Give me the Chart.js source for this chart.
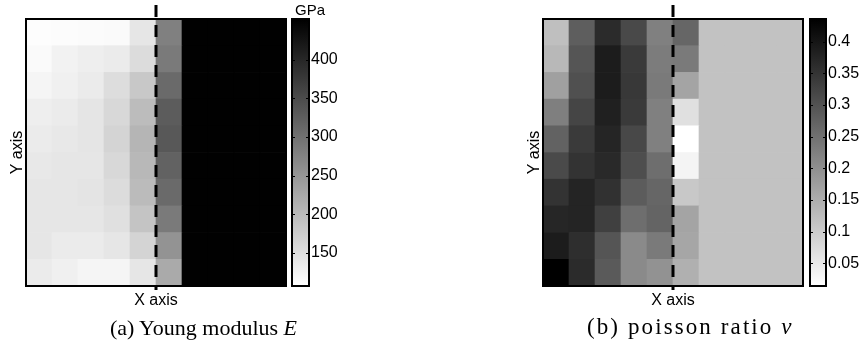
<!DOCTYPE html>
<html>
<head>
<meta charset="utf-8">
<script src="https://cdn.jsdelivr.net/npm/chart.js@4.4.1/dist/chart.umd.min.js"></script>
<style>
  html, body { margin: 0; padding: 0; background: #fff; }
  body { position: relative; width: 862px; height: 354px; overflow: hidden; }
  canvas { position: absolute; }
  .caption {
    position: absolute;
    top: 315px;
    font-family: "Liberation Serif", "DejaVu Serif", serif;
    font-size: 22px;
    line-height: 26px;
    color: #000;
    white-space: nowrap;
  }
</style>
</head>
<body>
<canvas id="youngMap" width="300" height="318" style="left:0;top:0"></canvas>
<canvas id="youngBar" width="80" height="300" style="left:280px;top:0"></canvas>
<canvas id="poissonMap" width="320" height="318" style="left:500px;top:0"></canvas>
<canvas id="poissonBar" width="62" height="300" style="left:800px;top:0"></canvas>
<div class="caption" style="left:110px">(a) Young modulus <i>E</i></div>
<div class="caption" style="left:587px;top:314px;font-size:23px;letter-spacing:2.1px">(b) poisson ratio <i>ν</i></div>

<script>
// grid columns, left to right
const columns = ["1", "2", "3", "4", "5", "6", "7", "8", "9", "10"]

// Young modulus in GPa, rows listed top to bottom
const youngRows = [
  [110, 111, 112, 114, 141, 279, 452, 452, 452, 452],
  [114, 125, 130, 134, 155, 288, 452, 452, 452, 452],
  [121, 127, 134, 153, 182, 309, 452, 452, 452, 452],
  [130, 134, 142, 160, 198, 328, 452, 452, 452, 452],
  [134, 138, 142, 165, 207, 334, 452, 452, 452, 452],
  [138, 141, 141, 160, 203, 320, 452, 452, 452, 452],
  [141, 141, 144, 155, 199, 309, 452, 452, 452, 452],
  [141, 141, 141, 149, 187, 288, 452, 452, 452, 452],
  [141, 134, 134, 141, 165, 254, 452, 452, 452, 452],
  [134, 127, 121, 121, 141, 222, 452, 452, 452, 452],
]

// poisson ratio, rows listed top to bottom
const poissonRows = [
  [0.120, 0.280, 0.365, 0.315, 0.224, 0.267, 0.115, 0.115, 0.115, 0.115],
  [0.131, 0.295, 0.390, 0.340, 0.231, 0.234, 0.115, 0.115, 0.115, 0.115],
  [0.171, 0.304, 0.390, 0.343, 0.234, 0.165, 0.115, 0.115, 0.115, 0.115],
  [0.226, 0.322, 0.383, 0.340, 0.224, 0.065, 0.115, 0.115, 0.115, 0.115],
  [0.274, 0.340, 0.375, 0.317, 0.224, 0.014, 0.115, 0.115, 0.115, 0.115],
  [0.314, 0.352, 0.368, 0.307, 0.254, 0.032, 0.115, 0.115, 0.115, 0.115],
  [0.352, 0.376, 0.355, 0.284, 0.267, 0.105, 0.115, 0.115, 0.115, 0.115],
  [0.373, 0.376, 0.330, 0.254, 0.271, 0.165, 0.115, 0.115, 0.115, 0.115],
  [0.390, 0.360, 0.295, 0.208, 0.234, 0.161, 0.115, 0.115, 0.115, 0.115],
  [0.436, 0.365, 0.287, 0.208, 0.194, 0.145, 0.115, 0.115, 0.115, 0.115],
]

const youngRange = [107, 453]
const poissonRange = [0.014, 0.436]
const youngTicks = [150, 200, 250, 300, 350, 400]
const poissonTicks = [0.05, 0.1, 0.15, 0.2, 0.25, 0.3, 0.35, 0.4]

// dashed interface line sits after this column
const interfaceColumn = 5

Chart.defaults.font.family = '"Liberation Sans", Arial, sans-serif'
Chart.defaults.font.size = 16
Chart.defaults.color = "#000"

const gray = (v, [lo, hi]) => {
  const t = Math.min(1, Math.max(0, (v - lo) / (hi - lo)))
  const g = Math.round(255 * (1 - t))
  return `rgb(${g},${g},${g})`
}

const framePlugin = (withDash) => ({
  id: "frame",
  afterDraw(chart) {
    const { ctx, chartArea: a, scales } = chart
    ctx.save()
    ctx.strokeStyle = "#000"
    ctx.lineWidth = 2
    ctx.strokeRect(a.left, a.top, a.width, a.height)
    if (withDash) {
      const x = (scales.x.getPixelForValue(interfaceColumn - 1) + scales.x.getPixelForValue(interfaceColumn)) / 2
      ctx.lineWidth = 3
      ctx.setLineDash([12, 8])
      ctx.beginPath()
      ctx.moveTo(x, a.top - 14)
      ctx.lineTo(x, a.bottom + 4)
      ctx.stroke()
    }
    ctx.restore()
  },
})

function makeHeatmap(id, rows, range, padLeft, padRight) {
  // one stacked dataset per grid row, bottom row first
  const datasets = rows
    .slice()
    .reverse()
    .map((row) => ({
      data: columns.map(() => 1),
      backgroundColor: row.map((v) => gray(v, range)),
      borderWidth: 0,
      barPercentage: 1,
      categoryPercentage: 1,
    }))

  return new Chart(document.getElementById(id), {
    type: "bar",
    data: { labels: columns, datasets },
    options: {
      responsive: false,
      animation: false,
      layout: { padding: { top: 19, right: padRight, bottom: 8, left: padLeft } },
      plugins: { legend: { display: false }, tooltip: { enabled: false } },
      scales: {
        x: {
          stacked: true,
          grid: { display: false, drawTicks: false },
          border: { display: false },
          ticks: { display: false },
          title: { display: true, text: "X axis", padding: 0 },
          afterFit: (axis) => { axis.height = 24 },
        },
        y: {
          stacked: true,
          min: 0,
          max: rows.length,
          grid: { display: false, drawTicks: false },
          border: { display: false },
          ticks: { display: false },
          title: { display: true, text: "Y axis", padding: { top: 8, bottom: 0 } },
          afterFit: (axis) => { axis.width = 26 },
        },
      },
    },
    plugins: [framePlugin(true)],
  })
}

function makeColorbar(id, range, ticks, unit, padLeft, axisWidth) {
  const [lo, hi] = range
  return new Chart(document.getElementById(id), {
    type: "bar",
    data: {
      labels: [""],
      datasets: [
        {
          data: [[lo, hi]],
          borderWidth: 0,
          barPercentage: 1,
          categoryPercentage: 1,
          backgroundColor: (c) => {
            const { chart } = c
            if (!chart.chartArea) return "#888"
            const y = chart.scales.y
            const grad = chart.ctx.createLinearGradient(0, y.getPixelForValue(lo), 0, y.getPixelForValue(hi))
            grad.addColorStop(0, "#fff")
            grad.addColorStop(1, "#000")
            return grad
          },
        },
      ],
    },
    options: {
      responsive: false,
      animation: false,
      layout: { padding: { top: 19, right: 0, bottom: 14, left: padLeft } },
      plugins: { legend: { display: false }, tooltip: { enabled: false } },
      scales: {
        x: { display: false },
        y: {
          position: "right",
          min: lo,
          max: hi,
          grid: { display: false, drawTicks: false },
          border: { display: false },
          afterBuildTicks: (axis) => { axis.ticks = ticks.map((v) => ({ value: v })) },
          afterFit: (axis) => { axis.width = axisWidth },
          ticks: { padding: 2, callback: (v) => String(v) },
        },
      },
    },
    plugins: [
      {
        id: "barFrame",
        afterDraw(chart) {
          const { ctx, chartArea: a, scales } = chart
          ctx.save()
          ctx.strokeStyle = "#000"
          ctx.lineWidth = 1
          ticks.forEach((v) => {
            const y = Math.round(scales.y.getPixelForValue(v)) + 0.5
            ctx.beginPath()
            ctx.moveTo(a.left, y)
            ctx.lineTo(a.left + 3, y)
            ctx.moveTo(a.right - 3, y)
            ctx.lineTo(a.right, y)
            ctx.stroke()
          })
          ctx.lineWidth = 2
          ctx.strokeRect(a.left, a.top, a.width, a.height)
          if (unit) {
            ctx.fillStyle = "#000"
            ctx.font = '15px "Liberation Sans", Arial, sans-serif'
            ctx.textAlign = "left"
            ctx.textBaseline = "middle"
            ctx.fillText(unit, a.left + 3, 11)
          }
          ctx.restore()
        },
      },
    ],
  })
}

makeHeatmap("youngMap", youngRows, youngRange, 0, 14)
makeColorbar("youngBar", youngRange, youngTicks, "GPa", 12, 51)
makeHeatmap("poissonMap", poissonRows, poissonRange, 17, 17)
makeColorbar("poissonBar", poissonRange, poissonTicks, "", 10, 36)
</script>
</body>
</html>
